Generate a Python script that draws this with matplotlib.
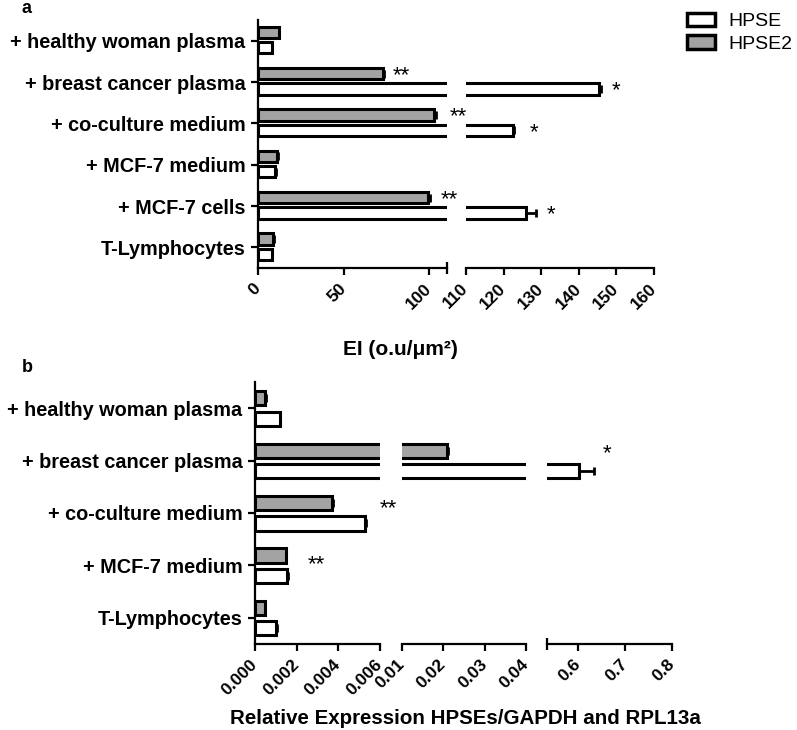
import matplotlib
matplotlib.use("Agg")
import matplotlib.pyplot as plt
import numpy as np
from matplotlib.patches import Patch

plt.rcParams['font.family'] = ['Liberation Sans', 'DejaVu Sans']
plt.rcParams['font.weight'] = 'bold'

# ---------------- data ----------------
categories_a = ['+ healthy woman plasma', '+ breast cancer plasma', '+ co-culture medium',
                '+ MCF-7 medium', '+ MCF-7 cells', 'T-Lymphocytes']
hpse_a = [8, 145.5, 122.5, 10, 126, 8]
hpse_a_err = [0.3, 0.5, 0.3, 0.3, 2.5, 0.3]
hpse2_a = [12, 73, 103, 11, 99.5, 9]
hpse2_a_err = [0.5, 0.8, 0.8, 0.5, 0.8, 0.5]
stars_a_hpse2 = ['', '**', '**', '', '**', '']
stars_a_hpse = ['', '*', '*', '', '*', '']

categories_b = ['+ healthy woman plasma', '+ breast cancer plasma', '+ co-culture medium',
                '+ MCF-7 medium', 'T-Lymphocytes']
hpse_b = [0.00118, 0.601, 0.0053, 0.00153, 0.00102]
hpse_b_err = [0.00003, 0.032, 0.00005, 0.00003, 0.00003]
hpse2_b = [0.00049, 0.0208, 0.0037, 0.00148, 0.00046]
hpse2_b_err = [0.00003, 0.0003, 0.00005, 0.00003, 0.00003]

seg_a = [(0, 110.5, [0, 50, 100], ['0', '50', '100']),
         (110, 160, [110, 120, 130, 140, 150, 160], ['110', '120', '130', '140', '150', '160'])]
seg_b = [(0, 0.006, [0, 0.002, 0.004, 0.006], ['0.000', '0.002', '0.004', '0.006']),
         (0.01, 0.04, [0.01, 0.02, 0.03, 0.04], ['0.01', '0.02', '0.03', '0.04']),
         (0.533, 0.8, [0.6, 0.7, 0.8], ['0.6', '0.7', '0.8'])]

GRAY = '#a3a3a3'
H = 0.27
LW = 2.2

W, Hh = 797, 730
fig = plt.figure(figsize=(W / 100, Hh / 100), dpi=100)


def px_axes(x0, x1, ytop, ybot):
    return fig.add_axes([x0 / W, 1 - ybot / Hh, (x1 - x0) / W, (ybot - ytop) / Hh])


def draw_panel(xpix, ytop, ybot, segs, cats, hpse, hpse_err, hpse2, hpse2_err, off2, offw):
    n = len(cats)
    y = np.arange(n)[::-1].astype(float)
    axes = []
    for i, ((x0, x1), (lo, hi, ticks, labels)) in enumerate(zip(xpix, segs)):
        ax = px_axes(x0, x1, ytop, ybot)
        zeros = np.zeros(n)
        ax.barh(y + off2, hpse2, height=H, color=GRAY, edgecolor='black', linewidth=LW,
                xerr=[zeros, hpse2_err], error_kw=dict(ecolor='black', elinewidth=2, capsize=3, capthick=2))
        ax.barh(y + offw, hpse, height=H, color='white', edgecolor='black', linewidth=LW,
                xerr=[zeros, hpse_err], error_kw=dict(ecolor='black', elinewidth=2, capsize=3, capthick=2))
        ax.set_xlim(lo, hi)
        ax.set_ylim(-0.5, n - 0.5)
        ax.set_xticks(ticks)
        ax.set_xticklabels(labels, rotation=45, ha='right', va='center',
                           rotation_mode='anchor', fontsize=12.5, fontweight='bold')
        ends = []
        if i > 0:
            ends.append(lo)
        if i < len(segs) - 1:
            ends.append(hi)
        ax.set_xticks(ends, minor=True)
        ax.tick_params(axis='x', which='major', direction='out', length=5, width=1.6, pad=8)
        ax.tick_params(axis='x', which='minor', direction='inout', length=9, width=1.6)
        for s in ['top', 'right']:
            ax.spines[s].set_visible(False)
        ax.spines['bottom'].set_linewidth(1.6)
        if i == 0:
            ax.spines['left'].set_linewidth(1.6)
            ax.set_yticks(y)
            ax.set_yticklabels(cats, fontsize=14.3, fontweight='bold')
            ax.tick_params(axis='y', direction='out', length=5, width=1.6, pad=4)
        else:
            ax.spines['left'].set_visible(False)
            ax.set_yticks([])
        ax.patch.set_alpha(0)
        axes.append(ax)
    return axes, y


# ---------------- panel a ----------------
axa, ya = draw_panel([(258, 447), (466, 654)], 20, 268, seg_a, categories_a,
                     hpse_a, hpse_a_err, hpse2_a, hpse2_a_err, 0.2, -0.17)
star_kw = dict(fontsize=16, ha='center', va='center', fontweight='normal')
# gray-bar stars (in segment 1 coordinates)
axa[0].text(84, ya[1] + 0.15, stars_a_hpse2[1], **star_kw)
axa[0].text(117, ya[2] + 0.15, stars_a_hpse2[2], **star_kw)
axa[0].text(112, ya[4] + 0.15, stars_a_hpse2[4], **star_kw)
# white-bar stars (in segment 2 coordinates)
axa[1].text(150, ya[1] - 0.22, stars_a_hpse[1], **star_kw)
axa[1].text(128, ya[2] - 0.22, stars_a_hpse[2], **star_kw)
axa[1].text(132.6, ya[4] - 0.22, stars_a_hpse[4], **star_kw)

fig.text(400 / W, 1 - 350 / Hh, 'EI (o.u/μm²)', ha='center', va='center', fontsize=15, fontweight='bold')
fig.text(22 / W, 1 - 0 / Hh, 'a', ha='left', va='top', fontsize=13, fontweight='bold')

# ---------------- panel b ----------------
axb, yb = draw_panel([(255, 380), (402, 526), (547, 672)], 382, 644, seg_b, categories_b,
                     hpse_b, hpse_b_err, hpse2_b, hpse2_b_err, 0.19, -0.2)
axb[2].text(0.662, yb[1] + 0.14, '*', **star_kw)
axb[0].text(0.0064, yb[2] + 0.08, '**', **star_kw)
axb[0].text(0.00293, yb[3] + 0.01, '**', **star_kw)

fig.text(465 / W, 1 - 718 / Hh, 'Relative Expression HPSEs/GAPDH and RPL13a', ha='center', va='center',
         fontsize=14.8, fontweight='bold')
fig.text(22 / W, 1 - 359 / Hh, 'b', ha='left', va='top', fontsize=13, fontweight='bold')

# ---------------- legend ----------------
handles = [Patch(facecolor='white', edgecolor='black', linewidth=2.5, label='HPSE'),
           Patch(facecolor=GRAY, edgecolor='black', linewidth=2.5, label='HPSE2')]
fig.legend(handles=handles, loc='upper left', bbox_to_anchor=(673 / W, 1 + 1 / Hh), frameon=False,
           prop=dict(size=14, weight='normal'), handlelength=1.45, handleheight=0.7,
           labelspacing=0.25, handletextpad=0.7, borderpad=0.2)

fig.savefig('out.png', dpi=100)
